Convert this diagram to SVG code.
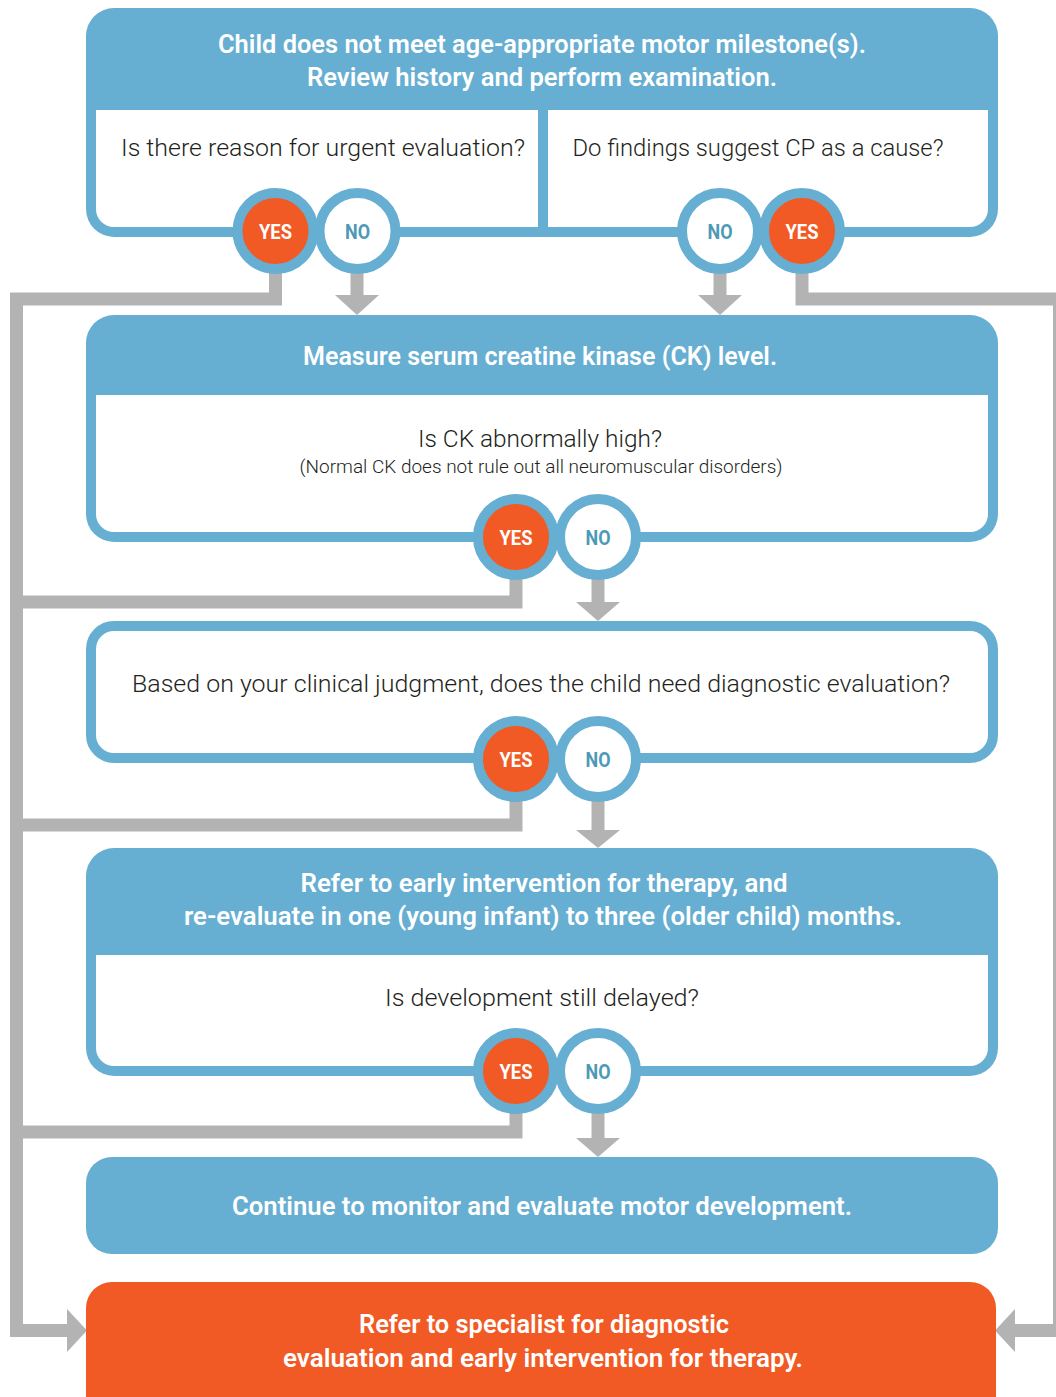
<svg xmlns="http://www.w3.org/2000/svg" width="1056" height="1397" viewBox="0 0 1056 1397">
<style>
.blue{fill:#66AED2}
.white{fill:#FFFFFF}
.orange{fill:#F15A24}
.hd{font-family:Roboto,"Open Sans",sans-serif;font-weight:600;font-size:25px;fill:#FFFFFF;text-anchor:middle}
.q{font-family:Roboto,"Open Sans",sans-serif;font-weight:300;font-size:24px;fill:#231F20;text-anchor:middle}
.sub{font-family:Roboto,"Open Sans",sans-serif;font-weight:300;font-size:18px;fill:#231F20;text-anchor:middle}
.yes{fill:#F15A24;stroke:#66AED2;stroke-width:10}
.no{fill:#FFFFFF;stroke:#66AED2;stroke-width:10}
.yt{font-family:Roboto,"Open Sans",sans-serif;font-weight:700;font-size:21px;fill:#FFFFFF;text-anchor:middle}
.nt{font-family:Roboto,"Open Sans",sans-serif;font-weight:700;font-size:21px;fill:#4E9AB6;text-anchor:middle}
.ln{fill:none;stroke:#B3B3B3;stroke-width:13;stroke-linejoin:miter}
.ah{fill:#B3B3B3}
</style>
<rect width="1056" height="1397" fill="#FFFFFF"/>
<g id="connectors">
<path class="ln" d="M275.5,231 V299 H16.5 V1330.5 H68"/>
<path class="ln" d="M802,231 V299 H1059.5 V1330.5 H1014"/>
<path class="ln" d="M516,537 V602 H16.5"/>
<path class="ln" d="M516,759 V825 H16.5"/>
<path class="ln" d="M516,1071 V1132 H16.5"/>
<path class="ln" d="M357,231 V297"/>
<path class="ln" d="M720,231 V297"/>
<path class="ln" d="M598,537 V603"/>
<path class="ln" d="M598,759 V831"/>
<path class="ln" d="M598,1071 V1139"/>
<polygon class="ah" points="335,295 379,295 357,315"/>
<polygon class="ah" points="698,295 742,295 720,315"/>
<polygon class="ah" points="576,602 620,602 598,621"/>
<polygon class="ah" points="576,830 620,830 598,848"/>
<polygon class="ah" points="576,1138 620,1138 598,1157"/>
<polygon class="ah" points="67,1309 67,1352 87,1330.5"/>
<polygon class="ah" points="1015,1309 1015,1352 995,1330.5"/>
</g>
<g id="node-start">
<rect class="blue" x="86" y="8" width="912" height="229" rx="28"/>
<path class="white" d="M96,110 H538 V227 H114 A18,18 0 0 1 96,209 Z"/>
<path class="white" d="M548,110 H988 V209 A18,18 0 0 1 970,227 H548 Z"/>
<text class="hd" x="542" y="53" textLength="648" lengthAdjust="spacingAndGlyphs">Child does not meet age-appropriate motor milestone(s).</text>
<text class="hd" x="542" y="86" textLength="470" lengthAdjust="spacingAndGlyphs">Review history and perform examination.</text>
<text class="q" x="323" y="156" textLength="404" lengthAdjust="spacingAndGlyphs">Is there reason for urgent evaluation?</text>
<text class="q" x="758" y="156" textLength="371" lengthAdjust="spacingAndGlyphs">Do findings suggest CP as a cause?</text>
</g>
<g id="node-urgent-yes"><circle class="yes" cx="275.5" cy="231" r="38"/><text class="yt" x="275.5" y="239" textLength="33" lengthAdjust="spacingAndGlyphs">YES</text></g>
<g id="node-urgent-no"><circle class="no" cx="357.5" cy="231" r="38"/><text class="nt" x="357.5" y="239" textLength="25" lengthAdjust="spacingAndGlyphs">NO</text></g>
<g id="node-cp-no"><circle class="no" cx="720" cy="231" r="38"/><text class="nt" x="720" y="239" textLength="25" lengthAdjust="spacingAndGlyphs">NO</text></g>
<g id="node-cp-yes"><circle class="yes" cx="802" cy="231" r="38"/><text class="yt" x="802" y="239" textLength="33" lengthAdjust="spacingAndGlyphs">YES</text></g>
<g id="node-ck">
<rect class="blue" x="86" y="315" width="912" height="227" rx="28"/>
<path class="white" d="M96,395 H988 V514 A18,18 0 0 1 970,532 H114 A18,18 0 0 1 96,514 Z"/>
<text class="hd" x="540" y="365" textLength="474" lengthAdjust="spacingAndGlyphs">Measure serum creatine kinase (CK) level.</text>
<text class="q" x="540" y="447" textLength="244" lengthAdjust="spacingAndGlyphs">Is CK abnormally high?</text>
<text class="sub" x="541" y="473" textLength="483" lengthAdjust="spacingAndGlyphs">(Normal CK does not rule out all neuromuscular disorders)</text>
</g>
<g id="node-ck-yes"><circle class="yes" cx="516" cy="537" r="38"/><text class="yt" x="516" y="545" textLength="33" lengthAdjust="spacingAndGlyphs">YES</text></g>
<g id="node-ck-no"><circle class="no" cx="598" cy="537" r="38"/><text class="nt" x="598" y="545" textLength="25" lengthAdjust="spacingAndGlyphs">NO</text></g>
<g id="node-judgment">
<rect x="91" y="626" width="902" height="132" rx="23" fill="#FFFFFF" stroke="#66AED2" stroke-width="10"/>
<text class="q" x="541" y="692" textLength="818" lengthAdjust="spacingAndGlyphs">Based on your clinical judgment, does the child need diagnostic evaluation?</text>
</g>
<g id="node-judgment-yes"><circle class="yes" cx="516" cy="759" r="38"/><text class="yt" x="516" y="767" textLength="33" lengthAdjust="spacingAndGlyphs">YES</text></g>
<g id="node-judgment-no"><circle class="no" cx="598" cy="759" r="38"/><text class="nt" x="598" y="767" textLength="25" lengthAdjust="spacingAndGlyphs">NO</text></g>
<g id="node-early">
<rect class="blue" x="86" y="848" width="912" height="228" rx="28"/>
<path class="white" d="M96,955 H988 V1048 A18,18 0 0 1 970,1066 H114 A18,18 0 0 1 96,1048 Z"/>
<text class="hd" x="544" y="892" textLength="487" lengthAdjust="spacingAndGlyphs">Refer to early intervention for therapy, and</text>
<text class="hd" x="543" y="925" textLength="718" lengthAdjust="spacingAndGlyphs">re-evaluate in one (young infant) to three (older child) months.</text>
<text class="q" x="542" y="1006" textLength="314" lengthAdjust="spacingAndGlyphs">Is development still delayed?</text>
</g>
<g id="node-early-yes"><circle class="yes" cx="516" cy="1071" r="38"/><text class="yt" x="516" y="1079" textLength="33" lengthAdjust="spacingAndGlyphs">YES</text></g>
<g id="node-early-no"><circle class="no" cx="598" cy="1071" r="38"/><text class="nt" x="598" y="1079" textLength="25" lengthAdjust="spacingAndGlyphs">NO</text></g>
<g id="node-monitor">
<rect class="blue" x="86" y="1157" width="912" height="97" rx="26"/>
<text class="hd" x="542" y="1215" textLength="620" lengthAdjust="spacingAndGlyphs">Continue to monitor and evaluate motor development.</text>
</g>
<g id="node-specialist">
<rect class="orange" x="86" y="1282" width="910" height="150" rx="26"/>
<text class="hd" x="544" y="1333" textLength="370" lengthAdjust="spacingAndGlyphs">Refer to specialist for diagnostic</text>
<text class="hd" x="543" y="1367" textLength="520" lengthAdjust="spacingAndGlyphs">evaluation and early intervention for therapy.</text>
</g>
</svg>
